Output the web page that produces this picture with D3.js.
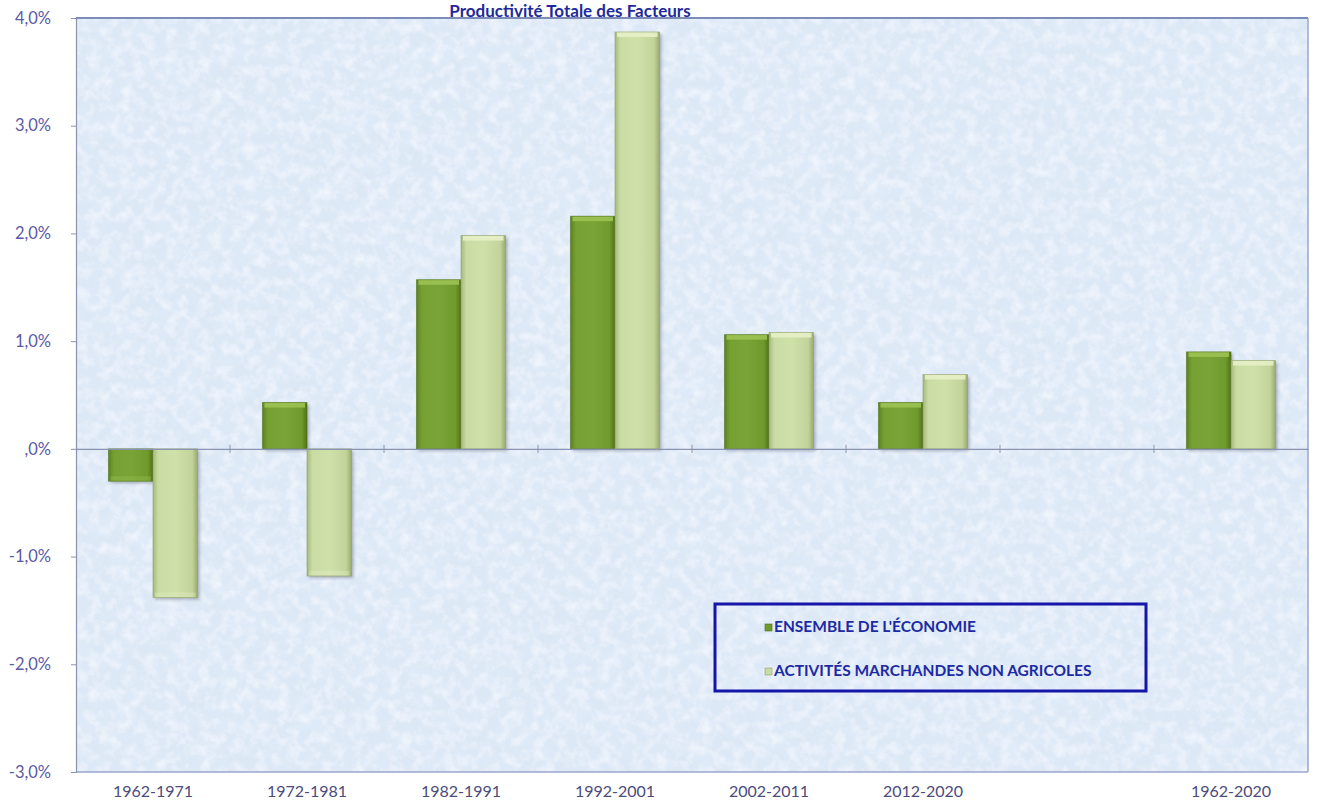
<!DOCTYPE html>
<html><head><meta charset="utf-8">
<script src="https://cdn.jsdelivr.net/npm/d3@7"></script>
<style>
html,body{margin:0;padding:0;background:#fff;}
svg{display:block;}
</style></head>
<body>
<script>
const title = "Productivité Totale des Facteurs";
const categories = ["1962-1971","1972-1981","1982-1991","1992-2001","2002-2011","2012-2020","","1962-2020"];
const seriesNames = ["ENSEMBLE DE L'ÉCONOMIE","ACTIVITÉS MARCHANDES NON AGRICOLES"];
const ensemble = [-0.30, 0.43, 1.57, 2.16, 1.06, 0.43, null, 0.90];
const marchandes = [-1.38, -1.18, 1.98, 3.87, 1.08, 0.69, null, 0.82];
const yTicks = [-3,-2,-1,0,1,2,3,4];
const yTickLabels = ["-3,0%","-2,0%","-1,0%",",0%","1,0%","2,0%","3,0%","4,0%"];

const W = 1317, H = 805;
const plot = {l:76, r:1308, t:18, b:772};

const svg = d3.select("body").append("svg").attr("width",W).attr("height",H);
const defs = svg.append("defs");

// textured light-blue background
const f = defs.append("filter").attr("id","tex").attr("x",0).attr("y",0).attr("width","100%").attr("height","100%");
f.append("feFlood").attr("flood-color","#dde8f6").attr("result","bg");
f.append("feTurbulence").attr("type","fractalNoise").attr("baseFrequency","0.045").attr("numOctaves",4).attr("seed",7).attr("result","n");
f.append("feColorMatrix").attr("in","n").attr("type","matrix")
 .attr("values","0 0 0 0 0.76  0 0 0 0 0.85  0 0 0 0 0.96  1.3 0 0 0 -0.55").attr("result","dark");
f.append("feTurbulence").attr("type","fractalNoise").attr("baseFrequency","0.09").attr("numOctaves",3).attr("seed",21).attr("result","n2");
f.append("feColorMatrix").attr("in","n2").attr("type","matrix")
 .attr("values","0 0 0 0 0.95  0 0 0 0 0.97  0 0 0 0 1  1.4 0 0 0 -0.58").attr("result","light");
f.append("feMerge").call(m=>{m.append("feMergeNode").attr("in","bg");m.append("feMergeNode").attr("in","dark");m.append("feMergeNode").attr("in","light");});

function grad(id, stops){
  const g = defs.append("linearGradient").attr("id",id).attr("x1",0).attr("x2",1).attr("y1",0).attr("y2",0);
  stops.forEach(s=>g.append("stop").attr("offset",s[0]).attr("stop-color",s[1]));
}
grad("gDark",[[0,"#5c831f"],[0.12,"#76a033"],[0.5,"#7aa437"],[0.88,"#6f9a2c"],[1,"#4f7318"]]);
grad("gLight",[[0,"#a6b97c"],[0.12,"#c9dca3"],[0.5,"#cfe1aa"],[0.88,"#c2d49a"],[1,"#98aa70"]]);
const sh = defs.append("filter").attr("id","shadow").attr("x","-20%").attr("y","-20%").attr("width","150%").attr("height","150%");
sh.append("feDropShadow").attr("dx",2).attr("dy",2).attr("stdDeviation",1.5).attr("flood-color","#334").attr("flood-opacity",0.35);

svg.append("rect").attr("x",plot.l).attr("y",plot.t).attr("width",plot.r-plot.l).attr("height",plot.b-plot.t)
  .attr("fill","#dde8f6").attr("filter","url(#tex)");

const x = d3.scaleBand().domain(categories.map((c,i)=>i)).range([plot.l,plot.r]).paddingInner(0).paddingOuter(0);
const groupW = 89;
const xs = d3.scaleBand().domain([0,1]).range([0,groupW]).padding(0);
const y = d3.scaleLinear().domain([-3,4]).range([plot.b,plot.t]);

// plot borders
svg.append("line").attr("x1",plot.l).attr("x2",plot.r).attr("y1",plot.t).attr("y2",plot.t).attr("stroke","#7d8cb8").attr("stroke-width",2);
svg.append("line").attr("x1",plot.r).attr("x2",plot.r).attr("y1",plot.t).attr("y2",plot.b).attr("stroke","#9aa6cf").attr("stroke-width",1.5);
svg.append("line").attr("x1",plot.l).attr("x2",plot.r).attr("y1",plot.b).attr("y2",plot.b).attr("stroke","#9aa6cf").attr("stroke-width",1.5);

// y axis
const yAxis = d3.axisLeft(y).tickValues(yTicks).tickSize(5).tickPadding(20)
  .tickFormat(d=>yTickLabels[yTicks.indexOf(d)]);
const ya = svg.append("g").attr("transform",`translate(${plot.l},0)`).call(yAxis);
ya.select(".domain").attr("stroke","#8a93b0").attr("stroke-width",1.2);
ya.selectAll(".tick line").attr("stroke","#8a93b0");
ya.selectAll(".tick text").attr("fill","#5a5aa6").style("font-family","Lato, 'Open Sans', sans-serif").style("font-size","16.5px");

// bars
const data = categories.map((c,i)=>({c,i,v:[ensemble[i],marchandes[i]]}));
const groups = svg.append("g").selectAll("g").data(data).join("g")
  .attr("transform",d=>`translate(${x(d.i)+x.bandwidth()/2-groupW/2},0)`);
groups.selectAll("g.bar").data(d=>d.v.map((v,k)=>({v,k})).filter(e=>e.v!==null)).join("g").attr("class","bar")
 .each(function(e){
   const g = d3.select(this);
   const x0 = xs(e.k), w = xs.bandwidth();
   const y0 = y(Math.max(0,e.v)), y1 = y(Math.min(0,e.v));
   g.append("rect").attr("x",x0).attr("y",y0).attr("width",w).attr("height",y1-y0)
     .attr("fill",e.k===0?"url(#gDark)":"url(#gLight)").attr("filter","url(#shadow)");
   const capY = e.v>=0 ? y0 : y1-5;
   g.append("rect").attr("x",x0+2).attr("y",capY).attr("width",w-4).attr("height",5)
     .attr("fill",e.k===0?"#9cc253":"#e6f1c6").attr("opacity",e.v>=0?0.9:0.35);
   g.append("rect").attr("x",x0).attr("y",y0).attr("width",w).attr("height",y1-y0)
     .attr("fill","none").attr("stroke",e.k===0?"#4d6e18":"#8e9e68").attr("stroke-width",0.8).attr("opacity",0.7);
 });

// x axis at zero
const xAxis = d3.axisBottom(x).tickSize(0).tickFormat(()=>"");
const xa = svg.append("g").attr("transform",`translate(0,${y(0)})`).call(xAxis);
xa.select(".domain").attr("stroke","#8a93b0").attr("stroke-width",1.2);
svg.append("g").selectAll("line").data(categories.slice(1).map((c,i)=>i+1)).join("line")
  .attr("x1",d=>x(d)).attr("x2",d=>x(d)).attr("y1",y(0)-4).attr("y2",y(0)+4).attr("stroke","#8a93b0");

// x labels
svg.append("g").selectAll("text").data(data).join("text")
  .attr("x",d=>x(d.i)+x.bandwidth()/2).attr("y",797).attr("text-anchor","middle")
  .attr("fill","#4b4b7c").style("font-family","Lato, 'Open Sans', sans-serif").style("font-size","16px")
  .text(d=>d.c);

// title
svg.append("text").attr("x",570).attr("y",17).attr("text-anchor","middle")
  .attr("fill","#1f2a9a").style("font-family","Lato, 'Open Sans', sans-serif").style("font-weight","bold").style("font-size","17px")
  .text(title);

// legend
const lg = svg.append("g");
lg.append("rect").attr("x",715).attr("y",604).attr("width",431).attr("height",87)
  .attr("fill","none").attr("stroke","#1515a8").attr("stroke-width",3);
const legendColors = ["#6f9a2c","#c9dca3"];
seriesNames.forEach((s,i)=>{
  const yy = 629 + i*44;
  lg.append("rect").attr("x",765).attr("y",yy-5).attr("width",7).attr("height",7)
    .attr("fill",legendColors[i]).attr("stroke",i?"#8e9e68":"#4d6e18").attr("stroke-width",0.6);
  lg.append("text").attr("x",774).attr("y",yy+3).attr("fill","#1c2aa3")
    .style("font-family","Lato, 'Open Sans', sans-serif").style("font-weight","bold").style("font-size","15.5px")
    .text(s);
});
</script>
</body></html>
